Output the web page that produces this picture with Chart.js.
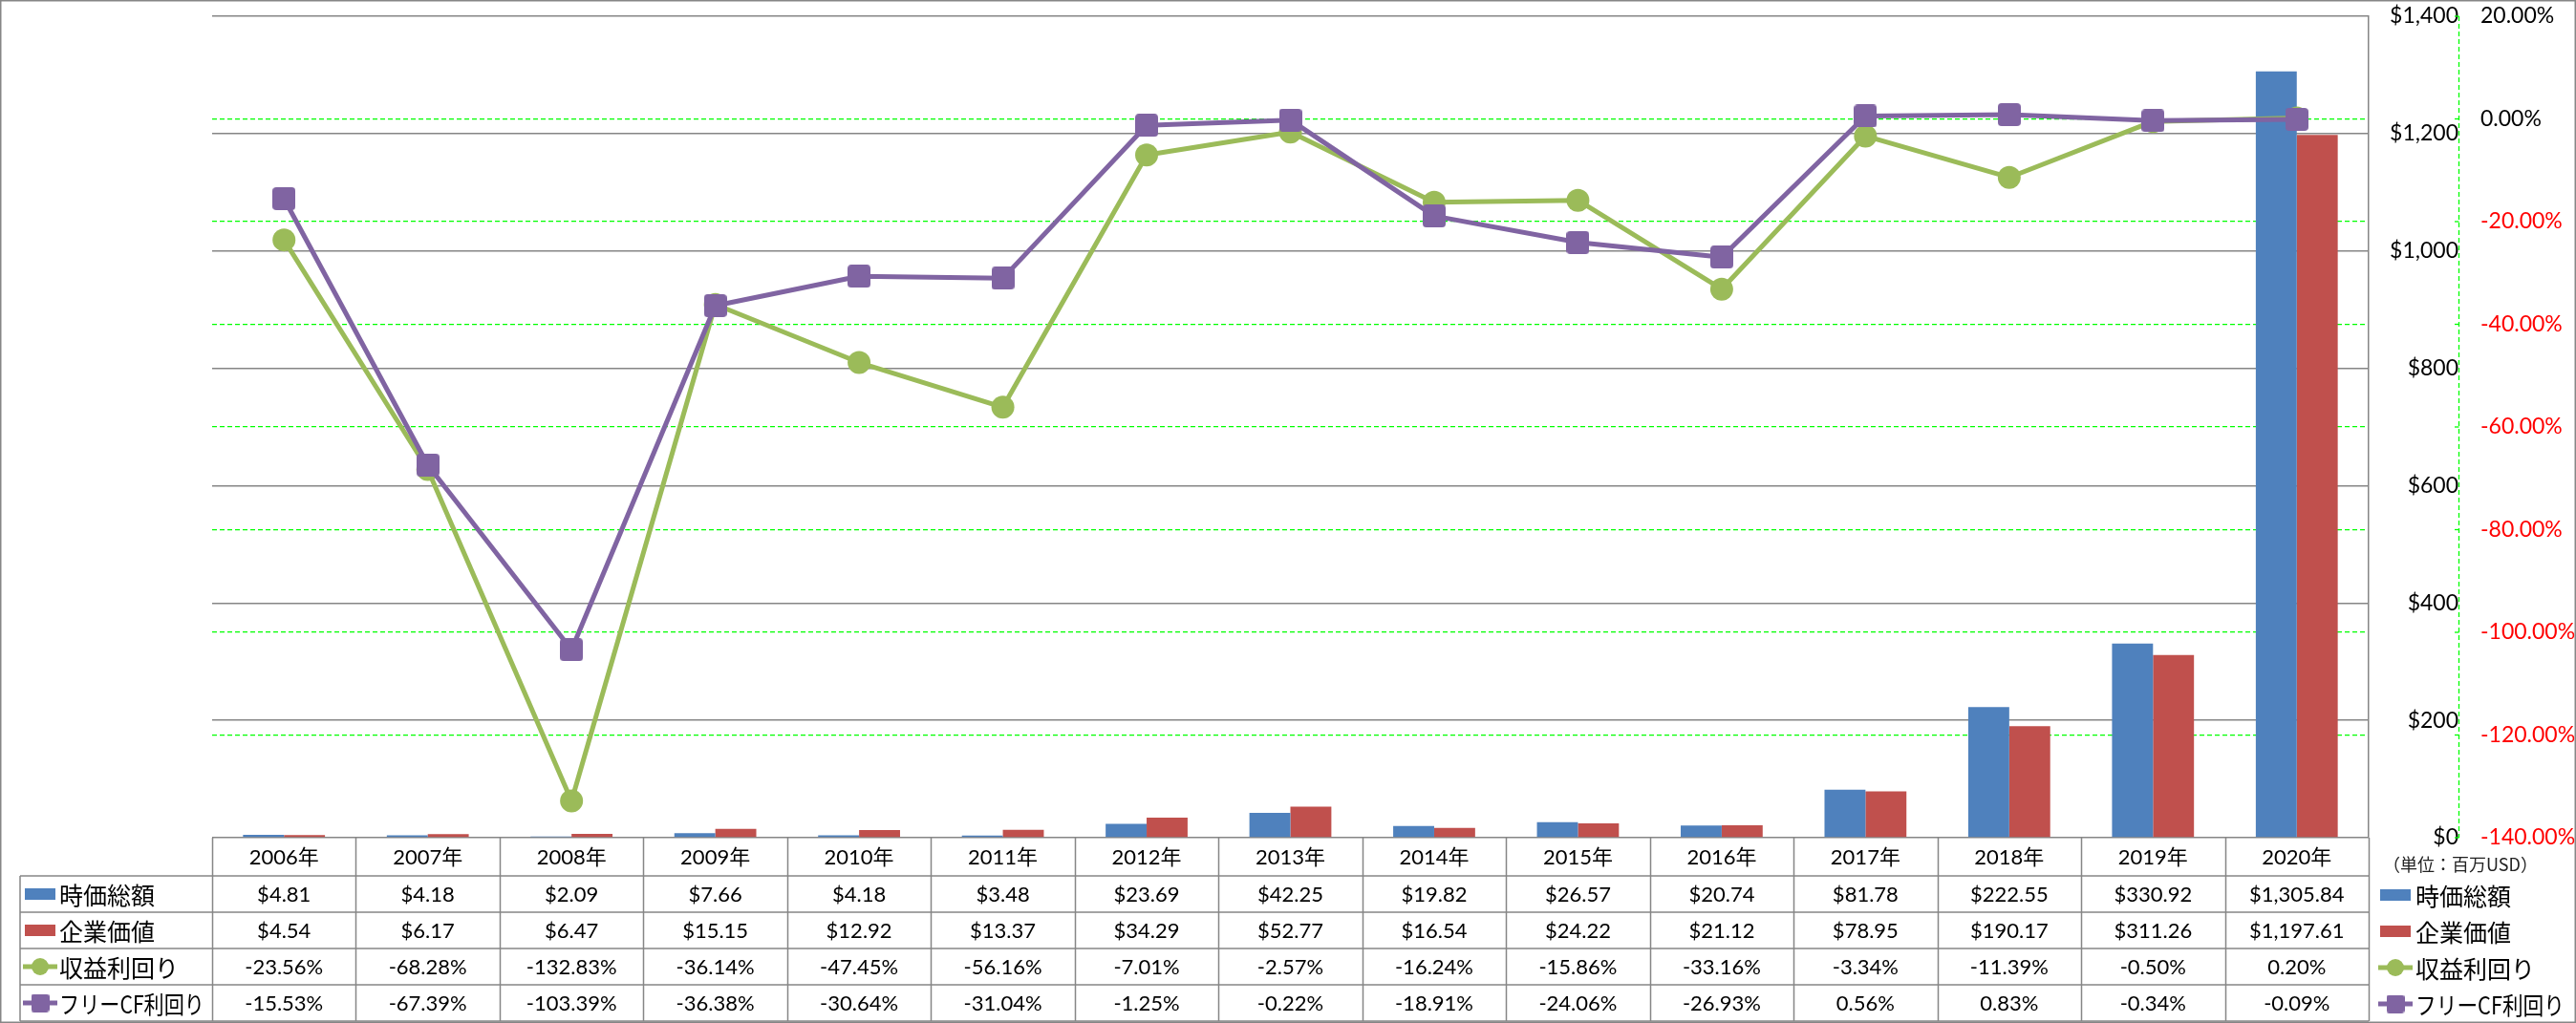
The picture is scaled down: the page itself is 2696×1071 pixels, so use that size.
<!DOCTYPE html>
<html lang="ja">
<head>
<meta charset="utf-8">
<title>時価総額・企業価値・利回り</title>
<script src="https://cdn.jsdelivr.net/npm/chart.js@4.4.1/dist/chart.umd.min.js"></script>
<style>
  html, body { margin: 0; padding: 0; background: #fff; }
  canvas { display: block; }
</style>
</head>
<body>
<canvas id="chart" width="2696" height="1071"></canvas>
<script>
// Categories
const years = ['2006年', '2007年', '2008年', '2009年', '2010年', '2011年', '2012年',
               '2013年', '2014年', '2015年', '2016年', '2017年', '2018年', '2019年', '2020年'];

// Bars (百万USD)
const marketCap = [4.81, 4.18, 2.09, 7.66, 4.18, 3.48, 23.69, 42.25, 19.82, 26.57, 20.74, 81.78, 222.55, 330.92, 1305.84];
const enterpriseValue = [4.54, 6.17, 6.47, 15.15, 12.92, 13.37, 34.29, 52.77, 16.54, 24.22, 21.12, 78.95, 190.17, 311.26, 1197.61];

// Lines (%)
const earningsYield = [-23.56, -68.28, -132.83, -36.14, -47.45, -56.16, -7.01, -2.57, -16.24, -15.86, -33.16, -3.34, -11.39, -0.50, 0.20];
const fcfYield = [-15.53, -67.39, -103.39, -36.38, -30.64, -31.04, -1.25, -0.22, -18.91, -24.06, -26.93, 0.56, 0.83, -0.34, -0.09];

// Names and axis ranges
const seriesNames = ['時価総額', '企業価値', '収益利回り', 'フリーCF利回り'];
const unitLabel = '（単位：百万USD）';
const dollarAxis = [0, 1400, 200];     // min, max, step
const percentAxis = [-140, 20, 20];    // min, max, step

// Colours
const BLUE = '#4F81BD';
const RED = '#C0504D';
const GREEN = '#9BBB59';
const PURPLE = '#8064A2';
const GRID_GRAY = '#868686';
const GRID_GREEN = '#00FF00';

const NUM_FONT = 'Lato, "Noto Sans CJK JP", sans-serif';
const JP_FONT = '"Noto Sans CJK JP", sans-serif';

// Rounded square used as the point marker of the purple line
function roundedSquare(size, r, color) {
    const c = document.createElement('canvas');
    c.width = size;
    c.height = size;
    const g = c.getContext('2d');
    g.fillStyle = color;
    g.beginPath();
    g.roundRect(0, 0, size, size, r);
    g.fill();
    return c;
}

const squareMarker = roundedSquare(24, 4, PURPLE);
const squareKey = roundedSquare(19, 3, PURPLE);

function fmtDollar(v) {
    return '$' + v.toLocaleString('en-US', { minimumFractionDigits: 2, maximumFractionDigits: 2 });
}

function fmtPercent(v) {
    return v.toFixed(2) + '%';
}

// Legend key for series i, drawn with its left edge at x
function drawKey(ctx, i, x, y) {
    if (i < 2) {
        ctx.fillStyle = i === 0 ? BLUE : RED;
        ctx.fillRect(x + 2, y - 6, 32, 12);
        return;
    }
    const color = i === 2 ? GREEN : PURPLE;
    ctx.strokeStyle = color;
    ctx.lineWidth = 5;
    ctx.beginPath();
    ctx.moveTo(x, y);
    ctx.lineTo(x + 36, y);
    ctx.stroke();
    if (i === 2) {
        ctx.fillStyle = GREEN;
        ctx.beginPath();
        ctx.arc(x + 18, y, 9, 0, Math.PI * 2);
        ctx.fill();
    } else {
        ctx.drawImage(squareKey, x + 8.5, y - 9.5);
    }
}

// Data table, right-hand legend, percent axis line and outer frame
const tablePlugin = {
    id: 'dataTable',
    afterDraw(chart) {
        const ctx = chart.ctx;
        const area = chart.chartArea;
        const xs = chart.scales.x;
        const y1 = chart.scales.y1;
        const colW = (area.right - area.left) / years.length;
        const headerH = 40;
        const rowH = 38;
        const labelLeft = 21;
        const top = area.bottom;
        const headerBottom = top + headerH;
        const bottom = headerBottom + rowH * 4;

        ctx.save();

        // percent axis: dashed green line with short ticks on its left
        ctx.strokeStyle = GRID_GREEN;
        ctx.lineWidth = 1.3;
        ctx.setLineDash([5, 3]);
        ctx.beginPath();
        ctx.moveTo(y1.left + 0.5, area.top);
        ctx.lineTo(y1.left + 0.5, area.bottom);
        ctx.stroke();
        ctx.setLineDash([]);
        y1.ticks.forEach(t => {
            const py = y1.getPixelForValue(t.value);
            ctx.beginPath();
            ctx.moveTo(y1.left - 4, py);
            ctx.lineTo(y1.left + 0.5, py);
            ctx.stroke();
        });

        // table grid
        ctx.strokeStyle = GRID_GRAY;
        ctx.lineWidth = 1.5;
        ctx.beginPath();
        for (let i = 0; i <= years.length; i++) {
            const x = Math.round(area.left + i * colW) + 0.5;
            ctx.moveTo(x, top);
            ctx.lineTo(x, bottom);
        }
        ctx.moveTo(labelLeft, headerBottom);
        ctx.lineTo(labelLeft, bottom);
        for (let r = 0; r <= 4; r++) {
            const y = headerBottom + r * rowH;
            ctx.moveTo(labelLeft, y);
            ctx.lineTo(area.right, y);
        }
        ctx.stroke();

        // header row
        ctx.fillStyle = '#000';
        ctx.textAlign = 'center';
        ctx.textBaseline = 'middle';
        ctx.font = '22px ' + NUM_FONT;
        years.forEach((label, i) => {
            ctx.fillText(label, xs.getPixelForValue(i), top + headerH / 2 + 1);
        });

        // data rows
        const rows = [
            marketCap.map(fmtDollar),
            enterpriseValue.map(fmtDollar),
            earningsYield.map(fmtPercent),
            fcfYield.map(fmtPercent)
        ];
        rows.forEach((row, r) => {
            const cy = headerBottom + r * rowH + rowH / 2 + 1;
            ctx.font = '22px ' + NUM_FONT;
            ctx.textAlign = 'center';
            ctx.fillStyle = '#000';
            row.forEach((txt, i) => ctx.fillText(txt, xs.getPixelForValue(i), cy));

            // row label with key
            drawKey(ctx, r, 24, cy - 1);
            ctx.font = '25px ' + JP_FONT;
            ctx.textAlign = 'left';
            ctx.fillStyle = '#000';
            ctx.fillText(seriesNames[r], 62, cy, 152);

            // legend on the right
            drawKey(ctx, r, 2489, cy);
            ctx.fillStyle = '#000';
            ctx.fillText(seriesNames[r], 2528, cy + 1, 156);
        });

        // unit label
        ctx.font = '18px ' + JP_FONT;
        ctx.fillStyle = '#222';
        ctx.textAlign = 'left';
        ctx.fillText(unitLabel, 2494, 905);

        // outer frame
        ctx.strokeStyle = GRID_GRAY;
        ctx.lineWidth = 1.5;
        ctx.strokeRect(0.75, 0.75, chart.width - 1.5, chart.height - 1.5);

        ctx.restore();
    }
};

// keep the axis label padding from pushing the plot area down
function fixAxis(width) {
    return scale => {
        scale.width = width;
        scale.paddingTop = 0;
        scale.paddingBottom = 0;
    };
}

const ctx = document.getElementById('chart').getContext('2d');

new Chart(ctx, {
    type: 'bar',
    data: {
        labels: years,
        datasets: [
            {
                label: seriesNames[0],
                data: marketCap,
                backgroundColor: BLUE,
                yAxisID: 'y',
                order: 3
            },
            {
                label: seriesNames[1],
                data: enterpriseValue,
                backgroundColor: RED,
                yAxisID: 'y',
                order: 3
            },
            {
                type: 'line',
                label: seriesNames[2],
                data: earningsYield,
                borderColor: GREEN,
                backgroundColor: GREEN,
                borderWidth: 5,
                borderJoinStyle: 'round',
                pointStyle: 'circle',
                pointRadius: 12,
                pointBorderWidth: 0,
                pointBackgroundColor: GREEN,
                tension: 0,
                yAxisID: 'y1',
                order: 2
            },
            {
                type: 'line',
                label: seriesNames[3],
                data: fcfYield,
                borderColor: PURPLE,
                backgroundColor: PURPLE,
                borderWidth: 5,
                borderJoinStyle: 'round',
                pointStyle: squareMarker,
                pointRadius: 12,
                tension: 0,
                yAxisID: 'y1',
                order: 1
            }
        ]
    },
    options: {
        responsive: false,
        animation: false,
        devicePixelRatio: 1,
        datasets: {
            bar: {
                categoryPercentage: 0.57,
                barPercentage: 1.0
            }
        },
        layout: {
            padding: { left: 222, top: 15, right: 0, bottom: 194 }
        },
        plugins: {
            legend: { display: false },
            tooltip: { enabled: false }
        },
        scales: {
            x: {
                display: false,
                offset: true
            },
            y: {
                position: 'right',
                weight: 0,
                min: dollarAxis[0],
                max: dollarAxis[1],
                afterFit: fixAxis(94),
                grid: {
                    color: GRID_GRAY,
                    lineWidth: 1.5,
                    drawTicks: false
                },
                border: {
                    display: true,
                    color: GRID_GRAY,
                    width: 1.5
                },
                ticks: {
                    stepSize: dollarAxis[2],
                    crossAlign: 'far',
                    padding: 22,
                    color: '#000',
                    font: { family: NUM_FONT, size: 23 },
                    callback: v => '$' + v.toLocaleString('en-US')
                }
            },
            y1: {
                position: 'right',
                weight: 1,
                min: percentAxis[0],
                max: percentAxis[1],
                afterFit: fixAxis(123),
                grid: {
                    color: c => (c.tick && (c.tick.value === percentAxis[0] || c.tick.value === percentAxis[1])) ? 'rgba(0,0,0,0)' : GRID_GREEN,
                    lineWidth: 1.3,
                    drawTicks: false
                },
                border: {
                    display: false,
                    dash: [5, 3]
                },
                ticks: {
                    stepSize: percentAxis[2],
                    crossAlign: 'near',
                    padding: 23,
                    color: c => c.tick.value < 0 ? '#FF0000' : '#000',
                    font: { family: NUM_FONT, size: 23 },
                    callback: v => v.toFixed(2) + '%'
                }
            }
        }
    },
    plugins: [tablePlugin]
});
</script>
</body>
</html>
